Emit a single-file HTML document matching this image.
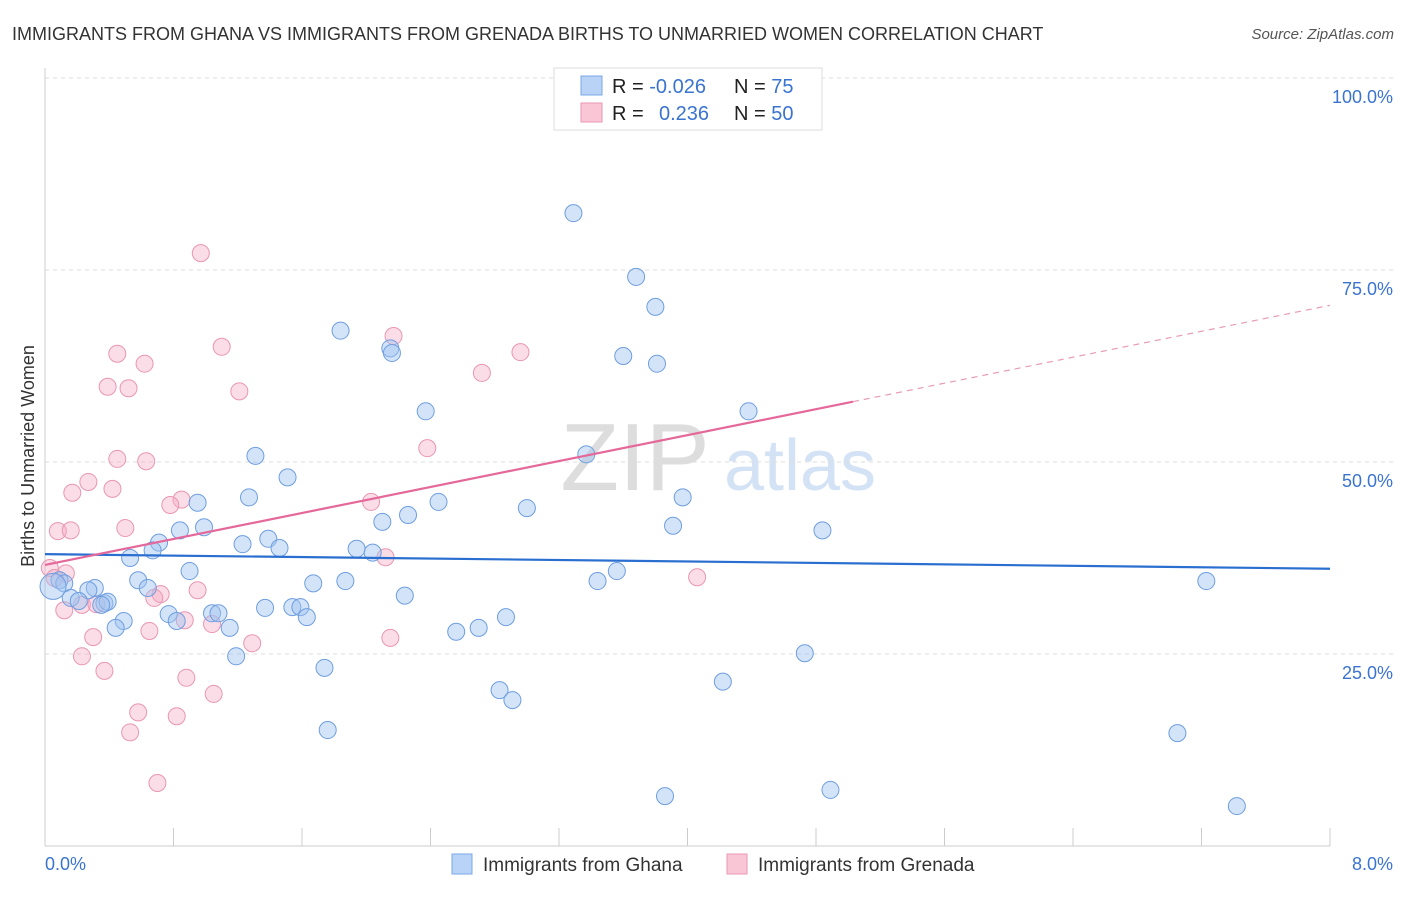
<!DOCTYPE html>
<html><head><meta charset="utf-8"><style>
body{margin:0;background:#fff;font-family:"Liberation Sans",sans-serif;}
svg text{font-family:"Liberation Sans",sans-serif;}
</style></head><body>
<svg id="chart" width="1406" height="892" xmlns="http://www.w3.org/2000/svg">
<text x="12" y="40" font-size="18" fill="#333">IMMIGRANTS FROM GHANA VS IMMIGRANTS FROM GRENADA BIRTHS TO UNMARRIED WOMEN CORRELATION CHART</text>
<text x="1394" y="39" font-size="15" fill="#555" font-style="italic" text-anchor="end">Source: ZipAtlas.com</text>
<text x="635" y="490" font-size="96" fill="#ddd" font-family="Liberation Serif" text-anchor="middle">ZIP</text>
<text x="800" y="490" font-size="72" fill="#d3e2f5" text-anchor="middle">atlas</text>
<text transform="translate(34,456) rotate(-90)" font-size="18" fill="#333" text-anchor="middle">Births to Unmarried Women</text>
<g id="grid"></g><g id="marks"></g><g id="lines"></g>
<g>
<rect x="554" y="68" width="268" height="62" fill="#fff" stroke="#ddd"/>
<rect x="581" y="76" width="21" height="19" fill="#b8d3f5" stroke="#7aa7e6"/>
<rect x="581" y="103" width="21" height="19" fill="#f9c6d6" stroke="#eb96b3"/>
<text x="612" y="93" font-size="20" fill="#222">R = <tspan fill="#3a74d0">-0.026</tspan></text>
<text x="734" y="93" font-size="20" fill="#222">N = <tspan fill="#3a74d0"> 75</tspan></text>
<text x="612" y="120" font-size="20" fill="#222">R = <tspan fill="#3a74d0" x="659">0.236</tspan></text>
<text x="734" y="120" font-size="20" fill="#222">N = <tspan fill="#3a74d0">50</tspan></text>
</g>
<g>
<rect x="452" y="854" width="20" height="20" fill="#b8d3f5" stroke="#7aa7e6"/>
<text x="483" y="871" font-size="19" fill="#333">Immigrants from Ghana</text>
<rect x="727" y="854" width="20" height="20" fill="#f9c6d6" stroke="#eb96b3"/>
<text x="758" y="871" font-size="19" fill="#333">Immigrants from Grenada</text>
</g>
</svg>
<script>
const xTicks=[0,0.8,1.6,2.4,3.2,4,4.8,5.6,6.4,7.2,8];
const yTicks=[25,50,75,100];
const yTickLabels=["25.0%","50.0%","75.0%","100.0%"];
const ghanaX=[3.29,3.68,3.80,1.84,2.15,2.16,3.60,3.81,4.38,2.37,3.37,1.31,1.51,3.97,1.27,0.95,2.45,3.00,0.99,0.84,3.91,4.84,2.10,2.26,1.23,1.39,1.46,0.71,0.67,1.94,2.04,0.53,3.56,0.90,3.44,7.23,0.58,1.67,1.87,0.09,0.12,0.31,0.27,0.64,0.16,0.21,0.37,0.39,0.35,2.24,1.37,1.54,1.59,1.63,1.04,1.08,0.77,0.82,0.49,0.44,1.15,2.87,2.70,2.56,1.19,4.73,1.74,2.83,2.91,4.22,1.76,7.05,3.86,4.89,7.42,0.05];
const ghanaY=[82.4,74.1,70.2,67.1,64.8,64.2,63.8,62.8,56.6,56.6,51.0,50.8,48.0,45.4,45.4,44.7,44.8,44.0,41.5,41.1,41.7,41.1,42.2,43.1,39.3,40.0,38.8,39.5,38.5,38.7,38.2,37.5,35.8,35.8,34.5,34.5,34.6,34.2,34.5,34.6,34.2,33.6,33.3,33.6,32.3,31.9,31.6,31.8,31.4,32.6,31.0,31.1,31.1,29.8,30.3,30.3,30.2,29.3,29.3,28.4,28.4,29.8,28.4,27.9,24.7,25.1,23.2,20.3,19.0,21.4,15.1,14.7,6.5,7.3,5.2,33.8];
const grenadaX=[0.97,2.17,2.96,1.10,0.45,0.62,2.72,0.39,0.52,1.21,2.38,0.45,0.63,0.17,0.27,0.42,0.85,0.78,2.03,0.50,0.08,0.16,2.12,0.03,0.13,0.06,4.06,0.95,0.72,0.68,0.23,0.32,0.12,1.04,0.87,0.65,0.30,1.29,2.15,0.23,0.37,0.88,1.05,0.58,0.82,0.53,0.70];
const grenadaY=[77.2,66.4,64.3,65.0,64.1,62.8,61.6,59.8,59.6,59.2,51.8,50.4,50.1,46.0,47.4,46.5,45.1,44.4,44.8,41.4,41.0,41.1,37.6,36.2,35.5,34.9,35.0,33.3,32.8,32.3,31.4,31.5,30.7,28.9,29.4,28.0,27.2,26.4,27.1,24.7,22.8,21.9,19.8,17.4,16.9,14.8,8.2];
const ghanaFit=[38.0,36.1];
const grenadaFit=[36.6,70.4];
const grenadaSolidEnd=5.03;
const NS="http://www.w3.org/2000/svg";
const X=v=>45+v/8*1285, Y=v=>846-v*7.68;
function mk(tag,parent,attrs){const e=document.createElementNS(NS,tag);for(const k in attrs)e.setAttribute(k,attrs[k]);document.getElementById(parent).appendChild(e);return e;}
let e=mk('line','grid',{x1:45,y1:68,x2:45,y2:846,stroke:'#ccc'});


e=mk('line','grid',{x1:45,y1:846,x2:1330,y2:846,stroke:'#ccc'});


yTicks.forEach((t,i)=>{
 e=mk('line','grid',{x1:45,y1:Y(t),x2:1394,y2:Y(t),stroke:'#ddd','stroke-dasharray':'4,4'});
 
 
 e=mk('text','grid',{x:1393,y:Y(t)+25,'text-anchor':'end','font-size':18,fill:'#3a74d0'});
 e.textContent=yTickLabels[i];
 
 
});
xTicks.forEach(t=>{
 e=mk('line','grid',{x1:X(t),y1:828,x2:X(t),y2:846,stroke:'#ccc'});
 
 
});
e=mk('text','grid',{x:45,y:870,'font-size':18,fill:'#3a74d0'});e.textContent='0.0%';


e=mk('text','grid',{x:1393,y:870,'font-size':18,fill:'#3a74d0','text-anchor':'end'});e.textContent='8.0%';


grenadaX.forEach((x,i)=>{
 e=mk('circle','marks',{cx:X(x),cy:Y(grenadaY[i]),r:8.5,fill:'rgba(244,170,195,0.4)',stroke:'#e996b2','stroke-width':1});
 
 
});
ghanaX.forEach((x,i)=>{
 e=mk('circle','marks',{cx:X(x),cy:Y(ghanaY[i]),r:i==ghanaX.length-1?13:8.5,fill:'rgba(160,195,240,0.45)',stroke:'#6e9ee0','stroke-width':1});
 
 
});
e=mk('line','lines',{x1:X(0),y1:Y(ghanaFit[0]),x2:X(8),y2:Y(ghanaFit[1]),stroke:'#2a6fd0','stroke-width':2.2});


const gy=v=>grenadaFit[0]+(grenadaFit[1]-grenadaFit[0])*v/8;
e=mk('line','lines',{x1:X(0),y1:Y(gy(0)),x2:X(grenadaSolidEnd),y2:Y(gy(grenadaSolidEnd)),stroke:'#e5689a','stroke-width':2.2});


e=mk('line','lines',{x1:X(grenadaSolidEnd),y1:Y(gy(grenadaSolidEnd)),x2:X(8),y2:Y(gy(8)),stroke:'#e99ab6','stroke-width':1.2,'stroke-dasharray':'6,5'});


</script>
</body></html>
